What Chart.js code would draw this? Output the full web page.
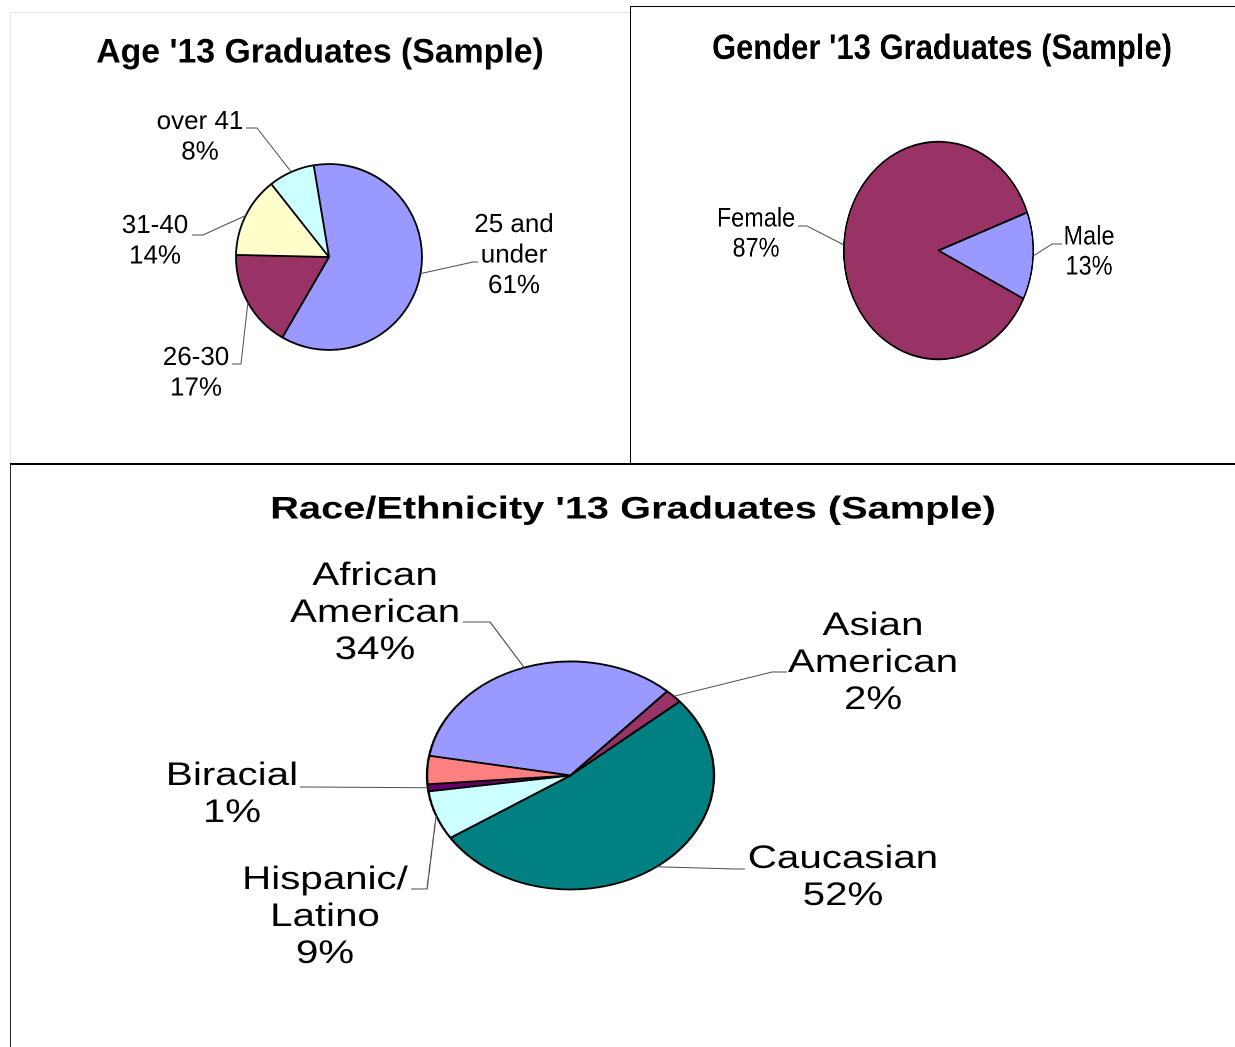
<!DOCTYPE html>
<html>
<head>
<meta charset="utf-8">
<title>'13 Graduates (Sample)</title>
<script src="https://cdn.jsdelivr.net/npm/chart.js@4.4.1/dist/chart.umd.min.js"></script>
<style>
  html, body { margin: 0; padding: 0; background: #fff; }
  body { width: 1235px; height: 1047px; position: relative; overflow: hidden; }
  .frame { position: absolute; box-sizing: border-box; }
  #ageFrame { left: 10px; top: 12px; width: 620px; height: 451px; border-left: 1px solid #e6e6e6; border-top: 1px solid #e6e6e6; }
  #genderFrame { left: 630px; top: 6px; width: 605px; height: 457px; border-left: 1px solid #000; border-top: 1px solid #000; }
  #raceFrame { left: 10px; top: 463px; width: 1225px; height: 584px; border-left: 1px solid #222; border-top: 2px solid #000; }
  .holder { position: absolute; transform-origin: 0 0; }
</style>
</head>
<body>
<div class="frame" id="ageFrame"></div>
<div class="frame" id="genderFrame"></div>
<div class="frame" id="raceFrame"></div>
<div class="holder"><canvas id="chartAge"></canvas></div>
<div class="holder"><canvas id="chartGender"></canvas></div>
<div class="holder"><canvas id="chartRace"></canvas></div>

<script>
const FONT = '"Liberation Sans", Arial, Helvetica, sans-serif';

// Age
const ageLabels = ['25 and\nunder', '26-30', '31-40', 'over 41'];
const ageValues = [61, 17, 14, 8];
const ageColors = ['#9999FF', '#993366', '#FFFFCC', '#CCFFFF'];

// Gender
const genderLabels = ['Male', 'Female'];
const genderValues = [13, 87];
const genderColors = ['#9999FF', '#993366'];

// Race / ethnicity (slice sizes as drawn; printed percentages as labelled)
const raceLabels = ['African\nAmerican', 'Asian\nAmerican', 'Caucasian', 'Hispanic/\nLatino', 'Biracial', 'Other'];
const raceValues = [34, 2, 52, 7, 1, 4];
const racePrinted = ['34%', '2%', '52%', '9%', '1%', ''];
const raceColors = ['#9999FF', '#993366', '#008080', '#CCFFFF', '#660066', '#FF8080'];

function pctOf(values) {
  const total = values.reduce((s, v) => s + v, 0);
  return values.map(v => Math.round(v / total * 100) + '%');
}

// panel geometry, page coordinates; sx = horizontal stretch of the panel
const agePanel = {
  left: 10, top: 12, width: 620, height: 451, sx: 1,
  cx: 329, cy: 257, r: 93, rotation: -9.5,
  title: "Age '13 Graduates (Sample)", titleX: 320, titleY: 53, titleSize: 33.8,
  labelSize: 26, lineH: 30.5,
  spots: [
    { x: 514, y: 225, elbow: [473, 262], end: [478, 262] },
    { x: 196, y: 358, elbow: [241, 364], end: [232, 364] },
    { x: 155, y: 226, elbow: [203, 235], end: [192, 235] },
    { x: 200, y: 122, elbow: [257, 128], end: [246, 128] }
  ]
};

const genderPanel = {
  left: 630, top: 6, width: 605, height: 457, sx: 0.8704,
  cx: 938.5, cy: 250.5, r: 108.8, rotation: 69.5,
  title: "Gender '13 Graduates (Sample)", titleX: 942, titleY: 49, titleSize: 35.6,
  labelSize: 27, lineH: 30,
  spots: [
    { x: 1089, y: 237, elbow: [1052, 244], end: [1062, 244] },
    { x: 756, y: 219, elbow: [807, 226], end: [798, 226] }
  ]
};

const racePanel = {
  left: 10, top: 463, width: 1225, height: 584, sx: 1.2588,
  cx: 570.5, cy: 775.5, r: 114, rotation: -80,
  title: "Race/Ethnicity '13 Graduates (Sample)", titleX: 633, titleY: 510, titleSize: 31.6,
  labelSize: 32, lineH: 37,
  spots: [
    { x: 375, y: 576, elbow: [490, 622], end: [463, 622] },
    { x: 873, y: 626, elbow: [772, 672], end: [787, 672] },
    { x: 843, y: 859, elbow: [735, 869], end: [745, 869] },
    { x: 325, y: 880, elbow: [427, 889], end: [411, 889] },
    { x: 232, y: 776, elbow: [310, 787], end: [300, 787] },
    null
  ]
};

function notesPlugin(p, pctText) {
  const nx = x => (x - p.left) / p.sx;
  const ny = y => y - p.top;
  return {
    id: 'pieNotes',
    afterDatasetsDraw(chart) {
      const ctx = chart.ctx;
      const arcs = chart.getDatasetMeta(0).data;
      ctx.save();
      ctx.fillStyle = '#000';
      ctx.textAlign = 'center';
      ctx.textBaseline = 'middle';
      ctx.font = `bold ${p.titleSize}px ${FONT}`;
      ctx.fillText(p.title, nx(p.titleX), ny(p.titleY));

      ctx.font = `${p.labelSize}px ${FONT}`;
      ctx.strokeStyle = '#4d4d4d';
      ctx.lineWidth = 1;
      p.spots.forEach((s, i) => {
        if (!s) return;
        const a = arcs[i].getProps(['x', 'y', 'startAngle', 'endAngle', 'outerRadius'], true);
        const mid = (a.startAngle + a.endAngle) / 2;
        // leader line: slice edge -> elbow -> stub end
        ctx.beginPath();
        ctx.moveTo(a.x + Math.cos(mid) * a.outerRadius, a.y + Math.sin(mid) * a.outerRadius);
        ctx.lineTo(nx(s.elbow[0]), ny(s.elbow[1]));
        ctx.lineTo(nx(s.end[0]), ny(s.end[1]));
        ctx.stroke();
        const lines = chart.data.labels[i].split('\n').concat(pctText[i]);
        lines.forEach((t, k) => ctx.fillText(t, nx(s.x), ny(s.y) + k * p.lineH));
      });
      ctx.restore();
    }
  };
}

function buildPie(canvasId, p, labels, values, colors, pctText) {
  const canvas = document.getElementById(canvasId);
  const natW = p.width / p.sx;
  Object.assign(canvas.parentNode.style, {
    left: p.left + 'px', top: p.top + 'px',
    width: natW + 'px', height: p.height + 'px',
    transform: `scaleX(${p.sx})`
  });
  const cx = (p.cx - p.left) / p.sx;
  const cy = p.cy - p.top;
  const half = p.r + 3;

  return new Chart(canvas, {
    type: 'pie',
    data: {
      labels,
      datasets: [{
        data: values,
        backgroundColor: colors,
        borderColor: '#000',
        borderWidth: 1.8,
        radius: p.r
      }]
    },
    options: {
      responsive: true,
      maintainAspectRatio: false,
      animation: false,
      devicePixelRatio: 2,
      rotation: p.rotation,
      layout: {
        padding: { left: cx - half, right: natW - cx - half, top: cy - half, bottom: p.height - cy - half }
      },
      plugins: {
        legend: { display: false },
        title: { display: false },
        tooltip: { enabled: false }
      }
    },
    plugins: [notesPlugin(p, pctText)]
  });
}

buildPie('chartAge', agePanel, ageLabels, ageValues, ageColors, pctOf(ageValues));
buildPie('chartGender', genderPanel, genderLabels, genderValues, genderColors, pctOf(genderValues));
buildPie('chartRace', racePanel, raceLabels, raceValues, raceColors, racePrinted);
</script>
</body>
</html>
